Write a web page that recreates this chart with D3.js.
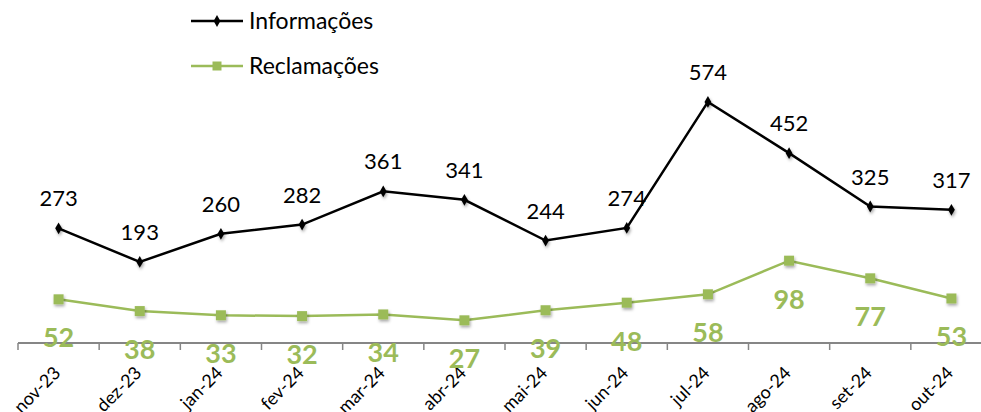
<!DOCTYPE html>
<html>
<head>
<meta charset="utf-8">
<script src="https://cdn.jsdelivr.net/npm/d3@7"></script>
<style>
  body { margin: 0; background: #fff; }
  text { font-family: Lato, "Open Sans", sans-serif; }
</style>
</head>
<body>
<div id="chart"></div>
<script>
// categories and series values
var months = ["nov-23", "dez-23", "jan-24", "fev-24", "mar-24", "abr-24", "mai-24", "jun-24", "jul-24", "ago-24", "set-24", "out-24"];
var informacoes = [273, 193, 260, 282, 361, 341, 244, 274, 574, 452, 325, 317];
var reclamacoes = [52, 38, 33, 32, 34, 27, 39, 48, 58, 98, 77, 53];
var seriesNames = ["Informações", "Reclamações"];

var width = 981, height = 412;
var margin = { top: 49, right: -11, bottom: 69, left: 18 };

var svg = d3.select("#chart")
  .append("svg")
  .attr("width", width)
  .attr("height", height);

// soft shadow for the markers
var filter = svg.append("defs").append("filter")
  .attr("id", "shadow")
  .attr("x", "-50%").attr("y", "-50%")
  .attr("width", "200%").attr("height", "200%");
filter.append("feDropShadow")
  .attr("dx", 1).attr("dy", 2)
  .attr("stdDeviation", 1.5)
  .attr("flood-color", "#000")
  .attr("flood-opacity", 0.35);

// x scale (band, one slot per month)
var xScale = d3.scaleBand()
  .domain(months)
  .range([margin.left, width - margin.right]);

// primary and secondary y scales
var yLeft = d3.scaleLinear()
  .domain([0, 700])
  .range([height - margin.bottom, margin.top]);

var yRight = d3.scaleLinear()
  .domain([0, 350])
  .range([height - margin.bottom, margin.top]);

function cx(d, i) {
  return xScale(months[i]) + xScale.bandwidth() / 2;
}

// x axis with ticks between categories
var axisY = height - margin.bottom;
var xAxis = svg.append("g")
  .attr("class", "x axis")
  .attr("transform", "translate(0," + axisY + ")");

xAxis.append("line")
  .attr("x1", margin.left)
  .attr("x2", width)
  .attr("stroke", "#868686")
  .attr("stroke-width", 2);

xAxis.selectAll(".tick")
  .data(months)
  .enter()
  .append("line")
  .attr("x1", function(d) { return xScale(d); })
  .attr("x2", function(d) { return xScale(d); })
  .attr("y1", 0)
  .attr("y2", 7)
  .attr("stroke", "#868686")
  .attr("stroke-width", 1.5);

xAxis.selectAll(".label")
  .data(months)
  .enter()
  .append("text")
  .attr("transform", function(d) {
    return "translate(" + (xScale(d) + xScale.bandwidth() / 2 + 3) + ",31) rotate(-45)";
  })
  .attr("text-anchor", "end")
  .attr("font-size", 18)
  .attr("fill", "#000")
  .text(function(d) { return d; });

// line generators
var lineInfo = d3.line()
  .x(cx)
  .y(function(d) { return yLeft(d); });

var lineRecl = d3.line()
  .x(cx)
  .y(function(d) { return yRight(d); });

// Reclamações line
svg.append("path")
  .datum(reclamacoes)
  .attr("fill", "none")
  .attr("stroke", "#9BBB59")
  .attr("stroke-width", 2.5)
  .attr("d", lineRecl);

svg.selectAll(".recl-pt")
  .data(reclamacoes)
  .enter()
  .append("rect")
  .attr("x", function(d, i) { return cx(d, i) - 5; })
  .attr("y", function(d) { return yRight(d) - 5; })
  .attr("width", 10)
  .attr("height", 10)
  .attr("fill", "#9BBB59")
  .attr("filter", "url(#shadow)");

svg.selectAll(".recl-lbl")
  .data(reclamacoes)
  .enter()
  .append("text")
  .attr("x", cx)
  .attr("y", function(d) { return yRight(d) + 48; })
  .attr("text-anchor", "middle")
  .attr("font-size", 27)
  .attr("font-weight", "bold")
  .attr("fill", "#9BBB59")
  .text(function(d) { return d; });

// Informações line
svg.append("path")
  .datum(informacoes)
  .attr("fill", "none")
  .attr("stroke", "#000")
  .attr("stroke-width", 2.5)
  .attr("d", lineInfo);

svg.selectAll(".info-pt")
  .data(informacoes)
  .enter()
  .append("path")
  .attr("transform", function(d, i) {
    return "translate(" + cx(d, i) + "," + yLeft(d) + ")";
  })
  .attr("d", d3.symbol().type(d3.symbolDiamond).size(40))
  .attr("fill", "#000")
  .attr("filter", "url(#shadow)");

svg.selectAll(".info-lbl")
  .data(informacoes)
  .enter()
  .append("text")
  .attr("x", cx)
  .attr("y", function(d) { return yLeft(d) - 22; })
  .attr("text-anchor", "middle")
  .attr("font-size", 22)
  .attr("fill", "#000")
  .text(function(d) { return d; });

// legend
var legendColors = ["#000", "#9BBB59"];
var legend = svg.selectAll(".legend")
  .data(seriesNames)
  .enter()
  .append("g")
  .attr("transform", function(d, i) { return "translate(191," + (21 + i * 45) + ")"; });

legend.append("line")
  .attr("x1", 0)
  .attr("x2", 52)
  .attr("stroke", function(d, i) { return legendColors[i]; })
  .attr("stroke-width", 2.5);

legend.append("path")
  .attr("transform", "translate(26,0)")
  .attr("d", function(d, i) {
    return d3.symbol().type(i == 0 ? d3.symbolDiamond : d3.symbolSquare).size(i == 0 ? 40 : 81)();
  })
  .attr("fill", function(d, i) { return legendColors[i]; });

legend.append("text")
  .attr("x", 58)
  .attr("y", 8)
  .attr("font-size", 23)
  .attr("fill", "#000")
  .text(function(d) { return d; });
</script>
</body>
</html>
